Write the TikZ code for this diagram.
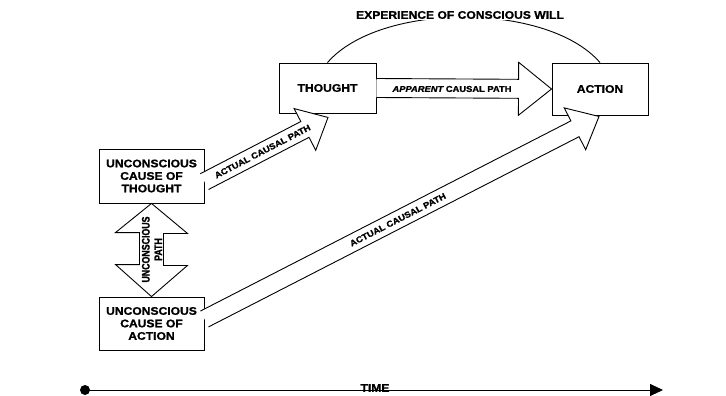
\documentclass[tikz,border=0pt]{standalone}
\usepackage{fontspec}
\newfontfamily\lab{Liberation Sans}[FakeStretch=1.1, BoldFeatures={FakeBold=1.2}, BoldItalicFeatures={FakeBold=1.2}]
\newfontfamily\labc{Liberation Sans}[FakeStretch=0.8, BoldFeatures={FakeBold=1.2}]
\usetikzlibrary{calc,arrows.meta}

\tikzset{
  box/.style={draw, fill=white, align=center, inner sep=0pt,
    font={\lab\bfseries\fontsize{11}{12.5}\selectfont}},
  arrowbody/.style={draw, fill=white, line join=miter},
  pathlab/.style={font={\lab\bfseries\fontsize{8.5}{10}\selectfont}, inner sep=0pt},
  titlelab/.style={font={\lab\bfseries\fontsize{11}{12.5}\selectfont}}
}

% fat arrow from #1 (tail centre) to #2 (tip); #3 shaft half width, #4 head half width, #5 head length
\newcommand\fatarrow[5]{%
  \draw[arrowbody] let \p1=(#1), \p2=(#2),
    \n1={atan2(\y2-\y1,\x2-\x1)}, \n2={veclen(\x2-\x1,\y2-\y1)} in
    [shift={(\p1)}, rotate=\n1]
    (0,#3) -- ({\n2-#5},#3) -- ({\n2-#5},#4) -- (\n2,0) -- ({\n2-#5},-#4) -- ({\n2-#5},-#3) -- (0,-#3);}

\begin{document}
\begin{tikzpicture}[x=1pt, y=-1pt, line width=0.9pt]
\useasboundingbox (0,0) rectangle (726,396);

% boxes
\node[box, minimum width=105pt, minimum height=54pt] (uct) at (151.5,176) {UNCONSCIOUS\\CAUSE OF\\THOUGHT};
\node[box, minimum width=105pt, minimum height=53pt] (uca) at (151.5,323.5) {UNCONSCIOUS\\CAUSE OF\\ACTION};
\node[box, minimum width=97pt, minimum height=50pt] (thought) at (327.5,88) {THOUGHT};
\node[box, minimum width=96pt, minimum height=52pt] (action) at (600,89) {ACTION};

% experience of conscious will
\draw (thought.north) .. controls (380,2) and (547.5,2) .. (action.north);
\node[titlelab, fill=white, inner sep=1.5pt] (will) at (460,15) {EXPERIENCE OF CONSCIOUS WILL};

% apparent causal path
\fatarrow{thought.east}{action.west}{9.5}{26.5}{33}
\node[pathlab] (applab) at (452,89) {\itshape APPARENT\upshape{} CAUSAL PATH};

% actual causal path to thought
\coordinate (a1s) at ($(uct.east)+(0,5.6)$);
\coordinate (a1e) at ($(thought.south)+(0.5,4)$);
\fatarrow{a1s}{a1e}{8.9}{23.5}{26}
\path (a1s) -- (a1e) node[pathlab, sloped, pos=0.47] (lab1) {ACTUAL CAUSAL PATH};

% actual causal path to action
\coordinate (a2s) at ($(uca.east)+(0,-4.5)$);
\coordinate (a2e) at ($(action.south)+(-1,1)$);
\fatarrow{a2s}{a2e}{8.9}{23.5}{27}
\path (a2s) -- (a2e) node[pathlab, sloped, pos=0.49] (lab2) {ACTUAL CAUSAL PATH};

% unconscious path (double arrow)
\draw[arrowbody] (uct.south) -- ++(36,30) -- ++(-24,0) -- ++(0,32) -- ++(24,0)
  -- (uca.north) -- ++(-36,-32) -- ++(24,0) -- ++(0,-32) -- ++(-24,0) -- cycle;
\node[font={\labc\bfseries\fontsize{11}{12.5}\selectfont}, rotate=90, align=center, inner sep=0pt] (uplab) at (152,249.5) {UNCONSCIOUS\\PATH};

% time line
\coordinate (t0) at (85,390);
\coordinate (t1) at (663,390);
\draw[line width=0.8pt, -{Triangle[length=13pt,width=12pt]}] (t0) -- (t1);
\fill (t0) circle[radius=5pt];
\node[titlelab, inner sep=0pt] (time) at (375,388) {TIME};
\end{tikzpicture}
\end{document}
